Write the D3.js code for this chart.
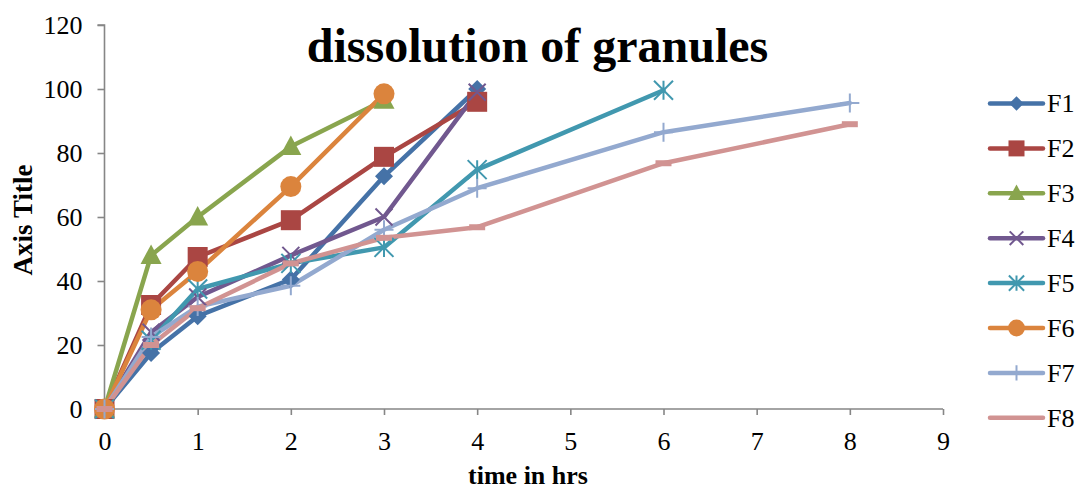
<!DOCTYPE html>
<html>
<head>
<meta charset="utf-8">
<script src="https://cdn.jsdelivr.net/npm/d3@7"></script>
<style>
  html, body { margin: 0; padding: 0; background: #fff; }
  svg { display: block; font-family: "Liberation Serif", "Times New Roman", serif; }
</style>
</head>
<body>
<svg id="chart" width="1078" height="491"></svg>
<script>
// Dissolution profiles (% released) against time in hours
const seriesNames = ["F1", "F2", "F3", "F4", "F5", "F6", "F7", "F8"];
const timesF1 = [0, 0.5, 1, 2, 3, 4];
const valuesF1 = [0, 17.5, 29, 40.5, 72.7, 100];
const timesF2 = [0, 0.5, 1, 2, 3, 4];
const valuesF2 = [0, 32.5, 47.5, 59, 78.8, 96];
const timesF3 = [0, 0.5, 1, 2, 3];
const valuesF3 = [0, 48, 60, 82, 96.5];
const timesF4 = [0, 0.5, 1, 2, 3, 4];
const valuesF4 = [0, 24, 35, 48, 60, 99];
const timesF5 = [0, 0.5, 1, 2, 3, 4, 6];
const valuesF5 = [0, 21.5, 37.5, 45.5, 50.5, 74.8, 99.6];
const timesF6 = [0, 0.5, 1, 2, 3];
const valuesF6 = [0, 31, 43, 69.5, 98.5];
const timesF7 = [0, 0.5, 1, 2, 3, 4, 6, 8];
const valuesF7 = [0, 22.5, 32, 38.5, 56, 69, 86.5, 95.6];
const timesF8 = [0, 0.5, 1, 2, 3, 4, 6, 8];
const valuesF8 = [0, 20, 31.5, 45.5, 53.5, 56.8, 76.8, 89];

const xTicks = [0, 1, 2, 3, 4, 5, 6, 7, 8, 9];
const yTicks = [0, 20, 40, 60, 80, 100, 120];

const colors = ["#4572A7", "#AA4643", "#89A54E", "#71588F", "#4198AF", "#DB843D", "#93A9CF", "#D19392"];
const markers = ["diamond", "square", "triangle", "x", "asterisk", "circle", "plus", "dash"];

const allTimes = [timesF1, timesF2, timesF3, timesF4, timesF5, timesF6, timesF7, timesF8];
const allValues = [valuesF1, valuesF2, valuesF3, valuesF4, valuesF5, valuesF6, valuesF7, valuesF8];
const series = seriesNames.map((name, i) => ({
  name,
  color: colors[i],
  marker: markers[i],
  points: allTimes[i].map((t, j) => ({ t, v: allValues[i][j] }))
}));

const svg = d3.select("#chart");
const x = d3.scaleLinear().domain([0, 9]).range([104.5, 943]);
const y = d3.scaleLinear().domain([0, 120]).range([409, 25]);
const axisColor = "#868686";
const serif = "'Liberation Serif', 'Times New Roman', serif";

// Axes
const yAxis = svg.append("g").attr("transform", `translate(${x(0)},0)`)
  .call(d3.axisLeft(y).tickValues(yTicks).tickSize(7).tickPadding(15).tickFormat(d3.format("d")));
const xAxis = svg.append("g").attr("transform", `translate(0,${y(0)})`)
  .call(d3.axisBottom(x).tickValues(xTicks).tickSize(6).tickPadding(0).tickFormat(d3.format("d")));
[xAxis, yAxis].forEach(g => {
  g.attr("font-family", serif);
  g.selectAll("path, line").attr("stroke", axisColor).attr("stroke-width", 1.6);
  g.selectAll("text").attr("font-size", 26).attr("fill", "#000").attr("font-family", serif);
});
yAxis.select(".domain").attr("d", `M-7,${y(120)}H0V${y(0)}`);
xAxis.select(".domain").attr("d", `M${x(0)},0H${x(9)}`);
yAxis.selectAll("text").attr("dy", "0.34em");
xAxis.selectAll("text").attr("y", 41).attr("dy", 0);

// Marker shapes
function drawMarker(g, type, color, cx, cy, scale = 1) {
  const s = scale;
  if (type === "diamond") {
    const r = 9 * s;
    g.append("path").attr("d", `M${cx},${cy - r}L${cx + r},${cy}L${cx},${cy + r}L${cx - r},${cy}Z`)
      .attr("fill", color);
  } else if (type === "square") {
    g.append("rect").attr("x", cx - 10 * s).attr("y", cy - 10 * s)
      .attr("width", 20 * s).attr("height", 20 * s).attr("fill", color);
  } else if (type === "triangle") {
    g.append("path").attr("d", `M${cx},${cy - 11 * s}L${cx + 10.5 * s},${cy + 8.5 * s}L${cx - 10.5 * s},${cy + 8.5 * s}Z`)
      .attr("fill", color);
  } else if (type === "circle") {
    g.append("circle").attr("cx", cx).attr("cy", cy).attr("r", 10.5 * s).attr("fill", color);
  } else if (type === "x") {
    const r = 8.5 * s;
    g.append("path").attr("d", `M${cx - r},${cy - r}L${cx + r},${cy + r}M${cx - r},${cy + r}L${cx + r},${cy - r}`)
      .attr("stroke", color).attr("stroke-width", 2);
  } else if (type === "asterisk") {
    const r = 9.5 * s;
    g.append("path").attr("d", `M${cx - r},${cy - r}L${cx + r},${cy + r}M${cx - r},${cy + r}L${cx + r},${cy - r}M${cx},${cy - r}V${cy + r}`)
      .attr("stroke", color).attr("stroke-width", 2);
  } else if (type === "plus") {
    const r = 9.5 * s;
    g.append("path").attr("d", `M${cx - r},${cy}H${cx + r}M${cx},${cy - r}V${cy + r}`)
      .attr("stroke", color).attr("stroke-width", 2);
  } else if (type === "dash") {
    g.append("path").attr("d", `M${cx - 8 * s},${cy}H${cx + 8 * s}`)
      .attr("stroke", color).attr("stroke-width", 6);
  }
}

// Lines and markers
const line = d3.line().x(d => x(d.t)).y(d => y(d.v));
const plot = svg.append("g");
series.forEach(s => {
  plot.append("path").datum(s.points).attr("d", line)
    .attr("fill", "none").attr("stroke", s.color).attr("stroke-width", 4.5)
    .attr("stroke-linejoin", "round").attr("stroke-linecap", "round");
});
series.forEach(s => {
  const g = plot.append("g");
  s.points.forEach(p => drawMarker(g, s.marker, s.color, x(p.t), y(p.v)));
});

// Title
svg.append("text").attr("x", 537.5).attr("y", 62).attr("text-anchor", "middle")
  .attr("font-size", 48).attr("font-weight", "bold").text("dissolution of granules");

// Axis titles
svg.append("text").attr("x", 528).attr("y", 484).attr("text-anchor", "middle")
  .attr("font-size", 26).attr("font-weight", "bold").text("time in hrs");
svg.append("text").attr("transform", `translate(32,220) rotate(-90)`)
  .attr("text-anchor", "middle").attr("font-size", 27).attr("font-weight", "bold").text("Axis Title");

// Legend
const legend = svg.append("g");
series.forEach((s, i) => {
  const ly = 103.5 + i * 44.9;
  const g = legend.append("g");
  g.append("line").attr("x1", 990).attr("x2", 1043).attr("y1", ly).attr("y2", ly)
    .attr("stroke", s.color).attr("stroke-width", 4.5).attr("stroke-linecap", "round");
  if (s.marker !== "dash") drawMarker(g, s.marker, s.color, 1016.5, ly, 0.8);
  g.append("text").attr("x", 1047).attr("y", ly).attr("dy", "0.34em")
    .attr("font-size", 26).text(s.name);
});
</script>
</body>
</html>
